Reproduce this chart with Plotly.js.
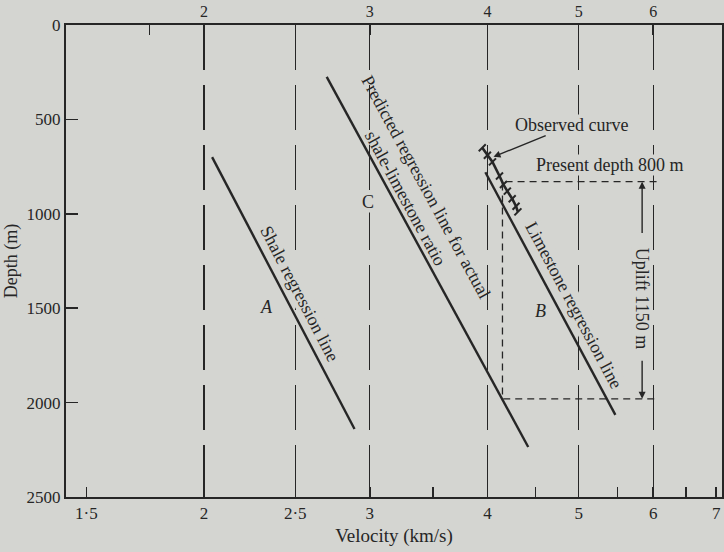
<!DOCTYPE html>
<html><head><meta charset="utf-8">
<script src="https://cdn.plot.ly/plotly-3.0.1.min.js"></script>
<style>html,body{margin:0;padding:0;background:#d4d5d1}</style>
</head><body><div id="chart" style="width:724px;height:552px"></div>
<script>
// ---- data (velocity km/s, depth m) ----
const shaleVel = [2.04, 2.89];
const shaleDepth = [700, 2140];
const predVel = [2.70, 4.42];
const predDepth = [275, 2235];
const limeVel = [3.98, 5.47];
const limeDepth = [780, 2065];
const obsVel = [3.95, 4.0, 4.05, 4.12, 4.16, 4.2, 4.25, 4.29, 4.31];
const obsDepth = [650, 690, 725, 800, 845, 880, 920, 960, 990];
const boxVel = [6.05, 4.15, 4.15, 6.05];
const boxDepth = [830, 830, 1980, 1980];
const upliftVel = 5.84;
const presentDepth = 830, upliftedDepth = 1980;

const bottomTickVals = [1.5, 2, 2.5, 3, 4, 5, 6, 7];
const bottomTickText = ['1·5', '2', '2·5', '3', '4', '5', '6', '7'];
const bottomMinorVals = [3.5, 4.5, 5.5, 6.5];
const topTickVals = [2, 2.5, 3, 4, 5, 6];
const topTickText = ['2', '', '3', '4', '5', '6'];
const topMinorVals = [1.75];
const depthTicks = [0, 500, 1000, 1500, 2000, 2500];
const xRange = [1.427, 7.10];

const ink = '#262626';
const bg = '#d4d5d1';
const serif = 'Liberation Serif, Times New Roman, serif';
const L = Math.log10;

const traces = [
  {x: shaleVel, y: shaleDepth, mode: 'lines', line: {color: ink, width: 2.4}, xaxis: 'x', yaxis: 'y'},
  {x: predVel, y: predDepth, mode: 'lines', line: {color: ink, width: 2.4}, xaxis: 'x', yaxis: 'y'},
  {x: limeVel, y: limeDepth, mode: 'lines', line: {color: ink, width: 2.4}, xaxis: 'x', yaxis: 'y'},
  {x: boxVel, y: boxDepth, mode: 'lines', line: {color: ink, width: 1.3, dash: '7px,5px'}, xaxis: 'x2', yaxis: 'y'},
  {x: obsVel, y: obsDepth, mode: 'lines+markers', line: {color: ink, width: 2.6},
   marker: {symbol: 'line-ne', size: 7, line: {color: ink, width: 2}}, xaxis: 'x', yaxis: 'y'}
];

const labelFont = {family: serif, size: 18, color: ink};
const annotations = [
  {x: L(2.53), y: 1423, text: 'Shale regression line', textangle: 62.5, bgcolor: bg},
  {x: L(3.36), y: 885, text: 'Predicted regression line for actual<br>shale-limestone ratio', textangle: 61.5},
  {x: L(4.94), y: 1483, text: 'Limestone regression line', textangle: 62, bgcolor: bg},
  {x: L(5.387), y: 740, text: 'Present depth 800 m', bgcolor: bg},
  {x: L(upliftVel), y: 1446, text: 'Uplift 1150 m', textangle: 90, bgcolor: bg},
  {x: L(2.33), y: 1494, text: '<i>A</i>', bgcolor: bg},
  {x: L(4.56), y: 1515, text: '<i>B</i>', bgcolor: bg},
  {x: L(2.99), y: 938, text: 'C', bgcolor: bg}
].map(a => Object.assign({xref: 'x', yref: 'y', showarrow: false, font: labelFont, borderpad: 0}, a));

annotations.push(
  {xref: 'x', yref: 'y', x: L(4.06), y: 698, axref: 'x', ayref: 'y', ax: L(4.914), ay: 530,
   text: 'Observed curve', showarrow: true, arrowhead: 2, arrowsize: 1, arrowwidth: 1.4,
   arrowcolor: ink, font: labelFont, bgcolor: bg, borderpad: 0},
  {xref: 'x', yref: 'y', x: L(upliftVel), y: presentDepth, axref: 'x', ayref: 'y', ax: L(upliftVel), ay: 1110,
   text: '', showarrow: true, arrowhead: 2, arrowsize: 1, arrowwidth: 1.4, arrowcolor: ink},
  {xref: 'x', yref: 'y', x: L(upliftVel), y: upliftedDepth, axref: 'x', ayref: 'y', ax: L(upliftVel), ay: 1770,
   text: '', showarrow: true, arrowhead: 2, arrowsize: 1, arrowwidth: 1.4, arrowcolor: ink}
);

const layout = {
  width: 724, height: 552,
  margin: {l: 66, r: 2, t: 25, b: 55},
  paper_bgcolor: bg, plot_bgcolor: bg,
  showlegend: false,
  font: {family: serif, size: 17, color: ink},
  xaxis: {
    type: 'log', range: [L(xRange[0]), L(xRange[1])],
    tickmode: 'array', tickvals: bottomTickVals, ticktext: bottomTickText,
    ticks: 'inside', ticklen: 10, tickwidth: 1.5, tickcolor: ink,
    minor: {tickmode: 'array', tickvals: bottomMinorVals, ticks: 'inside', ticklen: 10, tickwidth: 1.5, tickcolor: ink, showgrid: false},
    showgrid: false, zeroline: false,
    showline: true, linecolor: ink, linewidth: 2,
    tickfont: {family: serif, size: 17, color: ink},
    title: {text: 'Velocity (km/s)', font: {family: serif, size: 19, color: ink}, standoff: 6}
  },
  xaxis2: {
    type: 'log', range: [L(xRange[0]), L(xRange[1])],
    overlaying: 'x', side: 'top',
    tickmode: 'array', tickvals: topTickVals, ticktext: topTickText,
    ticks: 'inside', ticklen: 10, tickwidth: 1.5, tickcolor: ink,
    minor: {tickmode: 'array', tickvals: topMinorVals, ticks: 'inside', ticklen: 10, tickwidth: 1.5, tickcolor: ink, showgrid: false},
    showgrid: true, gridcolor: ink, gridwidth: 1.2, griddash: '45px,15px',
    zeroline: false,
    showline: true, linecolor: ink, linewidth: 2,
    tickfont: {family: serif, size: 16, color: ink}
  },
  yaxis: {
    range: [2500, 0],
    tickmode: 'array', tickvals: depthTicks,
    ticks: 'inside', ticklen: 12, tickwidth: 1.5, tickcolor: ink,
    showgrid: false, zeroline: false,
    showline: true, linecolor: ink, linewidth: 2, mirror: true,
    tickfont: {family: serif, size: 17, color: ink},
    title: {text: 'Depth (m)', font: {family: serif, size: 18, color: ink}, standoff: 4}
  },
  annotations: annotations
};

Plotly.newPlot('chart', traces, layout, {displayModeBar: false, staticPlot: true});
</script></body></html>
